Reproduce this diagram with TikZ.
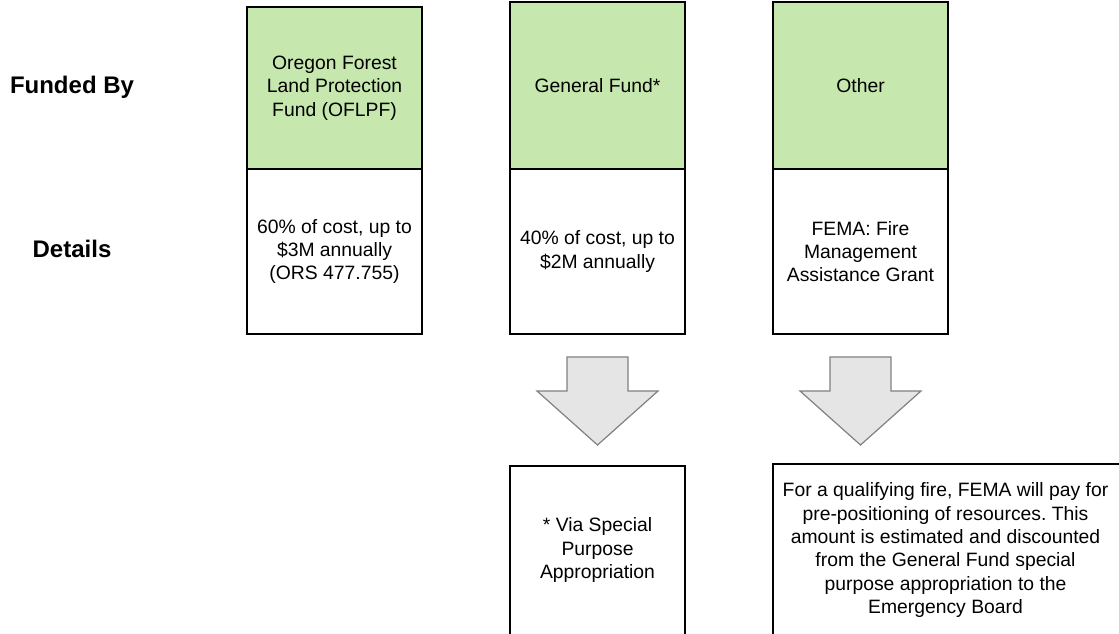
\documentclass[tikz,border=0pt]{standalone}
\usepackage{fontspec}
\setmainfont{Liberation Sans}
\frenchspacing
\usetikzlibrary{positioning}
\tikzset{
    fundbox/.style={
        draw=black, line width=1.4pt, fill=FundGreen, align=center,
        minimum width=131.25pt, inner sep=0pt, outer sep=0pt,
        font=\fontsize{14.5}{17.5}\selectfont
    },
    detailbox/.style={
        draw=black, line width=1.4pt, fill=white, align=center,
        minimum width=131.25pt, minimum height=123.75pt,
        inner sep=0pt, outer sep=0pt,
        font=\fontsize{14.5}{17.5}\selectfont
    },
    rowlabel/.style={font=\fontsize{18}{21}\selectfont\bfseries},
    notetext/.style={align=center, font=\fontsize{14.5}{17.5}\selectfont},
    bigarrow/.style={draw=ArrowGray, line width=0.9pt, fill=ArrowFill},
}
\definecolor{FundGreen}{RGB}{198,231,174}
\definecolor{ArrowFill}{RGB}{229,229,229}
\definecolor{ArrowGray}{RGB}{128,128,128}

\begin{document}
\begin{tikzpicture}[x=0.75pt, y=-0.75pt]

    \clip (0,0) rectangle (1119,634);

    % row labels
    \node[rowlabel] (fundedby) at (72,87) {Funded By};
    \node[rowlabel] (details) at (72,249) {Details};

    % funding sources
    \node[fundbox, anchor=north west, minimum height=121.5pt] (oflpf) at (247,7)
        {Oregon Forest\\Land Protection\\Fund (OFLPF)};
    \node[fundbox, anchor=north west, minimum height=125.25pt] (genfund) at (510,2)
        {General Fund*};
    \node[fundbox, anchor=north west, minimum height=125.25pt] (other) at (773,2)
        {Other};

    \node[detailbox, below=0pt of oflpf] (oflpfdet)
        {60\% of cost, up to\\\$3M annually\\(ORS 477.755)};
    \node[detailbox, below=0pt of genfund] (genfunddet)
        {40\% of cost, up to\\\$2M annually};
    \node[detailbox, below=0pt of other] (otherdet)
        {FEMA: Fire\\Management\\Assistance Grant};

    % big arrows
    \foreach \cx in {597.5, 860.5} {
        \draw[bigarrow] (\cx-30.5,357) -- (\cx+30.5,357) -- (\cx+30.5,391)
            -- (\cx+60.5,391) -- (\cx,445) -- (\cx-60.5,391)
            -- (\cx-30.5,391) -- cycle;
    }

    % notes
    \draw[line width=1.4pt] (510,466) rectangle (685,660);
    \draw[line width=1.4pt] (773,464) rectangle (1130,660);
    \node[notetext] (spanote) at (597.5,550)
        {* Via Special\\Purpose\\Appropriation};
    \node[notetext] (femanote) at (945.5,550)
        {For a qualifying fire, FEMA will pay for\\pre-positioning of resources. This\\amount is estimated and discounted\\from the General Fund special\\purpose appropriation to the\\Emergency Board};

\end{tikzpicture}
\end{document}
